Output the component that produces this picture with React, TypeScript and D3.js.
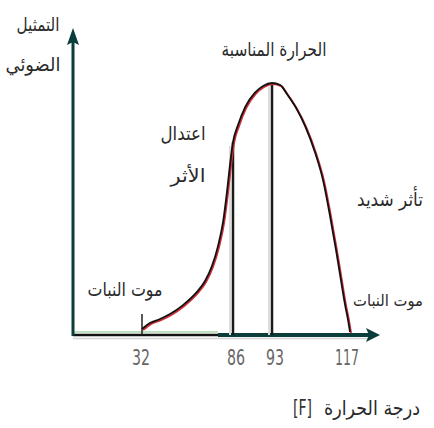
import React from "react";
import * as d3 from "d3";

// Relative photosynthesis rate against temperature (°F)
const temperatures = [32, 36.7, 42.7, 48.6, 56.3, 64.6, 69.4, 73.5, 77.1, 80.1, 82.4, 84.2, 86, 86.9, 88.2, 89.9, 91.4, 93, 95.5, 97.6, 100.4, 103.2, 106.2, 108.7, 110.8, 112.7, 114.2, 115.5, 116.4, 117];
const rates = [1.2, 3.6, 5.2, 7.2, 10.8, 16.1, 20.5, 26.5, 34.5, 44.2, 56.2, 67.1, 76.3, 83.1, 90.4, 96, 98.8, 100, 99.2, 95.6, 90, 82.7, 72.3, 61, 47, 32.9, 20.9, 10.8, 4.8, 0];

const tickValues = [32, 86, 93, 117];
const tickLabels = ["32", "86", "93", "117"];

// Marked temperatures with their rate on the curve
const markerTemps = [86, 93];
const markerRates = [76.3, 100];

const W = 434;
const H = 428;
const AX = 73; // y-axis position
const AY = 335; // x-axis position

const ARABIC = "'DejaVu Sans', sans-serif";

type Lbl = { text: string; x: number; y: number; w: number; size: number };

const labels: Lbl[] = [
  { text: "التمثيل", x: 38, y: 31, w: 43, size: 19 },
  { text: "الضوئي", x: 33, y: 71, w: 55, size: 19 },
  { text: "الحرارة المناسبة", x: 274, y: 56, w: 105, size: 19 },
  { text: "اعتدال", x: 183, y: 140, w: 45, size: 19 },
  { text: "الأثر", x: 188, y: 182, w: 35, size: 19 },
  { text: "تأثر شديد", x: 390, y: 206, w: 66, size: 19 },
  { text: "موت النبات", x: 125, y: 296, w: 75, size: 19 },
  { text: "موت النبات", x: 388, y: 306, w: 70, size: 16 },
  { text: "درجة الحرارة", x: 372, y: 415, w: 96, size: 20 },
];

export default function App() {
  const x = d3.scaleLinear().domain([32, 86, 93, 117]).range([142, 233, 272, 350]);
  const y = d3.scaleLinear().domain([0, 100]).range([332, 83]);

  const pts: [number, number][] = temperatures.map((t, i) => [x(t), y(rates[i])]);
  const line = d3.line().curve(d3.curveMonotoneX)(pts) || "";

  const teal = "#0b3d3a";

  return (
    <svg width={W} height={H} style={{ position: "absolute", left: 0, top: 0 }} xmlns="http://www.w3.org/2000/svg">
      <rect width={W} height={H} fill="#fff" />

      {/* x axis */}
      <line x1={AX} x2={368} y1={AY + 3.5} y2={AY + 3.5} stroke="#d4d4d4" strokeWidth={1.5} />
      <line x1={AX} x2={218} y1={AY - 3} y2={AY - 3} stroke="#bfe0c0" strokeWidth={2} />
      <line x1={AX} x2={218} y1={AY} y2={AY} stroke="#111" strokeWidth={2.5} />
      <line x1={218} x2={372} y1={AY} y2={AY} stroke={teal} strokeWidth={4} />
      <path d={`M${380},${AY} L${366},${AY - 7} L${369},${AY} L${366},${AY + 7} Z`} fill={teal} />

      {/* y axis */}
      <line x1={AX} x2={AX} y1={AY + 1} y2={38} stroke={teal} strokeWidth={3} />
      <path d={`M${AX},${28} L${AX - 6},${45} L${AX},${42} L${AX + 6},${45} Z`} fill={teal} />

      {/* small tick at the start of the curve */}
      <line x1={x(32)} x2={x(32)} y1={AY} y2={314} stroke="#222" strokeWidth={1.5} />

      {/* marker lines */}
      {markerTemps.map((t, i) => (
        <g key={t}>
          <line x1={x(t) - 3} x2={x(t) - 3} y1={AY} y2={y(markerRates[i]) + 4} stroke="#ddd" strokeWidth={2} />
          <line x1={x(t)} x2={x(t)} y1={AY} y2={y(markerRates[i])} stroke="#1a1a1a" strokeWidth={2.5} />
        </g>
      ))}

      {/* curve */}
      <path d={line} fill="none" stroke="#d0303a" strokeWidth={2} transform="translate(1,1)" />
      <path d={line} fill="none" stroke="#111" strokeWidth={1.8} />

      {/* tick labels */}
      {tickValues.map((v, i) => (
        <text
          key={v}
          x={x(v) + (i === 3 ? -3 : i === 0 ? -1 : 3)}
          y={365}
          fontFamily="'Liberation Sans Narrow', 'DejaVu Sans Condensed', sans-serif"
          fontSize={21}
          fill="#666"
          textAnchor="middle"
          textLength={i === 3 ? 24 : 18}
          lengthAdjust="spacingAndGlyphs"
        >
          {tickLabels[i]}
        </text>
      ))}

      {/* labels */}
      {labels.map((l, i) => (
        <text
          key={i}
          x={l.x - l.w / 2}
          y={l.y}
          fontFamily={ARABIC}
          fontSize={l.size}
          fill="#2a2a2a"
          textLength={l.w}
          lengthAdjust="spacingAndGlyphs"
        >
          {l.text}
        </text>
      ))}
      <text x={293} y={415} fontFamily="'DejaVu Sans Condensed', sans-serif" fontSize={22} fill="#333" textLength={19} lengthAdjust="spacingAndGlyphs">
        [F]
      </text>
    </svg>
  );
}
